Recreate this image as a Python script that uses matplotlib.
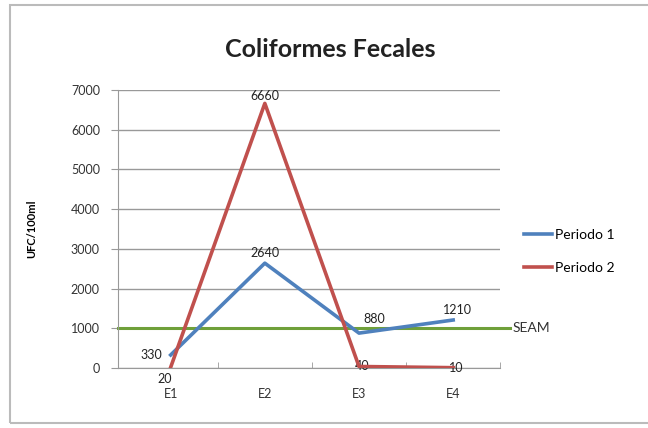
import matplotlib.pyplot as plt
from matplotlib.patches import Rectangle

estaciones = ['E1', 'E2', 'E3', 'E4']
periodo1 = [330, 2640, 880, 1210]
periodo2 = [20, 6660, 40, 10]
seam = 1000

azul = '#4F81BD'
rojo = '#C0504D'
verde = '#6FA03A'

plt.rcParams['font.family'] = ['Lato', 'DejaVu Sans']

fig = plt.figure(figsize=(6.48, 4.28), dpi=100)
ax = fig.add_axes([0.182, 0.140, 0.590, 0.650])

x = list(range(len(estaciones)))
ax.plot(x, periodo1, color=azul, lw=2.6, label='Periodo 1', zorder=3)
ax.plot(x, periodo2, color=rojo, lw=2.6, label='Periodo 2', zorder=4)
ax.plot([-0.56, 3.6], [seam, seam], color=verde, lw=2.2, clip_on=False, zorder=2)
ax.text(3.63, seam, 'SEAM', fontsize=10, color='#333333', va='center', ha='left')

# etiquetas de datos
ax.annotate(str(periodo1[0]), (0, periodo1[0]), xytext=(-6, 0), textcoords='offset points',
            ha='right', va='center', fontsize=9, color='#222222')
ax.annotate(str(periodo2[0]), (0, periodo2[0]), xytext=(-4, -4), textcoords='offset points',
            ha='center', va='top', fontsize=9, color='#222222')
ax.annotate(str(periodo1[1]), (1, periodo1[1]), xytext=(0, 3), textcoords='offset points',
            ha='center', va='bottom', fontsize=9, color='#222222')
ax.annotate(str(periodo2[1]), (1, periodo2[1]), xytext=(0, 1), textcoords='offset points',
            ha='center', va='bottom', fontsize=9, color='#222222')
ax.annotate(str(periodo1[2]), (2, periodo1[2]), xytext=(3, 10), textcoords='offset points',
            ha='left', va='center', fontsize=9, color='#222222')
ax.annotate(str(periodo1[3]), (3, periodo1[3]), xytext=(3, 3), textcoords='offset points',
            ha='center', va='bottom', fontsize=9, color='#222222')
for i in (2, 3):
    ax.annotate(str(periodo2[i]), (i, periodo2[i]), xytext=(2, 0), textcoords='offset points',
                ha='center', va='center', fontsize=9, color='#222222')

ax.set_xlim(-0.56, 3.5)
ax.set_ylim(0, 7000)
ax.set_yticks(range(0, 7001, 1000))
ax.set_xticks(x)
ax.set_xticklabels(estaciones)
ax.set_xticks([0.5, 1.5, 2.5, 3.5], minor=True)
ax.tick_params(axis='x', which='major', length=0, pad=14, labelsize=9, colors='#333333')
ax.tick_params(axis='x', which='minor', length=4, direction='in', color='#999999')
ax.tick_params(axis='y', length=5, direction='out', color='#999999', labelsize=9,
               labelcolor='#333333', pad=8)
ax.grid(axis='y', color='#999999', lw=1)
ax.set_axisbelow(True)
for s in ('top', 'right'):
    ax.spines[s].set_visible(False)
ax.spines['left'].set_color('#999999')
ax.spines['bottom'].set_color('#999999')

ax.set_ylabel('UFC/100ml', fontsize=8, fontweight='bold', labelpad=24)
fig.text(0.51, 0.885, 'Coliformes Fecales', fontsize=18, fontweight='bold',
         ha='center', va='center', color='#222222')

ax.legend(loc='center left', bbox_to_anchor=(1.03, 0.42), frameon=False,
          fontsize=10, handlelength=2.0, handletextpad=0.2, labelspacing=1.5)

fig.add_artist(Rectangle((10 / 648, 5 / 428), 1.0, 1 - 10 / 428, transform=fig.transFigure,
                         fill=False, edgecolor='#bbbbbb', lw=1.5))

fig.savefig('out.png', dpi=100)
